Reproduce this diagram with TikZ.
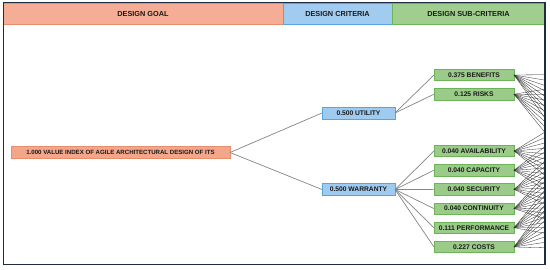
\documentclass[tikz,border=0pt]{standalone}
\usepackage{fontspec}
\setmainfont{Liberation Sans}
\usetikzlibrary{positioning}
\definecolor{ink}{HTML}{1A1A1A}
\definecolor{framecol}{HTML}{1D2B44}
\definecolor{goalhead}{HTML}{F5AD95}
\definecolor{goalfill}{HTML}{F4A68B}
\definecolor{goalborder}{HTML}{E98E6D}
\definecolor{crithead}{HTML}{A2CCEF}
\definecolor{critfill}{HTML}{9FCBF0}
\definecolor{critborder}{HTML}{55A5E2}
\definecolor{subhead}{HTML}{A0CE8F}
\definecolor{subfill}{HTML}{9ACB88}
\definecolor{subborder}{HTML}{6DB357}
\definecolor{linkgray}{HTML}{858585}
\definecolor{fangray}{HTML}{2A2A2A}

\begin{document}
\begin{tikzpicture}[x=1pt, y=1pt, node distance=7.7pt]
        \tikzstyle{head} = [rectangle, minimum height=21pt, inner sep=0pt, outer sep=0pt, font=\fontsize{7.3}{8}\selectfont\bfseries, text=ink, line width=0.5pt]
        \tikzstyle{box} = [rectangle, minimum height=11.5pt, inner sep=0pt, outer sep=0pt, font=\fontsize{6.7}{7}\selectfont\bfseries, text=ink, line width=0.6pt]
        \tikzstyle{goal} = [box, draw=goalborder, fill=goalfill, minimum width=219pt, font=\fontsize{6.1}{7}\selectfont\bfseries]
        \tikzstyle{crit} = [box, draw=critborder, fill=critfill, minimum width=73pt, minimum height=12pt]
        \tikzstyle{sub} = [box, draw=subborder, fill=subfill, minimum width=80pt]
        \tikzstyle{link} = [draw, line width=0.7pt, color=linkgray]
        \tikzstyle{fan} = [draw, line width=0.3pt, color=fangray]

        \useasboundingbox (0,0) rectangle (550,270);
        \fill [white] (0,0) rectangle (550,270);

        % header band
        \node [head, draw=goalborder, fill=goalhead, minimum width=280pt] (hgoal) at (143,256.5) {DESIGN GOAL};
        \node [head, draw=critborder, fill=crithead, minimum width=109pt, right=0pt of hgoal] (hcrit) {DESIGN CRITERIA};
        \node [head, draw=subborder, fill=subhead, minimum width=153pt, right=0pt of hcrit] (hsub) {DESIGN SUB-CRITERIA};

        % hierarchy
        \node [goal] (goal) at (120.5,117.5) {1.000 VALUE INDEX OF AGILE ARCHITECTURAL DESIGN OF ITS};
        \node [crit] (utility) at (358.5,157) {0.500 UTILITY};
        \node [crit] (warranty) at (358.5,80.5) {0.500 WARRANTY};
        \node [sub] (benefits) at (474,195) {0.375 BENEFITS};
        \node [sub, below=of benefits] (risks) {0.125 RISKS};
        \node [sub] (availability) at (474,119) {0.040 AVAILABILITY};
        \node [sub, below=of availability] (capacity) {0.040 CAPACITY};
        \node [sub, below=of capacity] (security) {0.040 SECURITY};
        \node [sub, below=of security] (continuity) {0.040 CONTINUITY};
        \node [sub, below=of continuity] (performance) {0.111 PERFORMANCE};
        \node [sub, below=of performance] (costs) {0.227 COSTS};

        \path [link] (goal.east) -- (utility.west);
        \path [link] (goal.east) -- (warranty.west);
        \path [link] (utility.east) -- (benefits.west);
        \path [link] (utility.east) -- (risks.west);
        \foreach \s in {availability,capacity,security,continuity,performance,costs}
            \path [link] (warranty.east) -- (\s.west);

        % links to the alternatives, cut off by the frame
        \foreach \k in {0,...,8}
            \coordinate (alt\k) at (640,20+22*\k);
        \begin{scope}
            \clip (3,5) rectangle (545,268);
            \foreach \s in {benefits,risks,availability,capacity,security,continuity,performance,costs}
                \foreach \k in {0,...,8}
                    \path [fan] (\s.east) -- (alt\k);
        \end{scope}

        \draw [framecol, line width=1.8pt] (3.5,5.5) rectangle (545,267.5);
    \end{tikzpicture}
\end{document}
